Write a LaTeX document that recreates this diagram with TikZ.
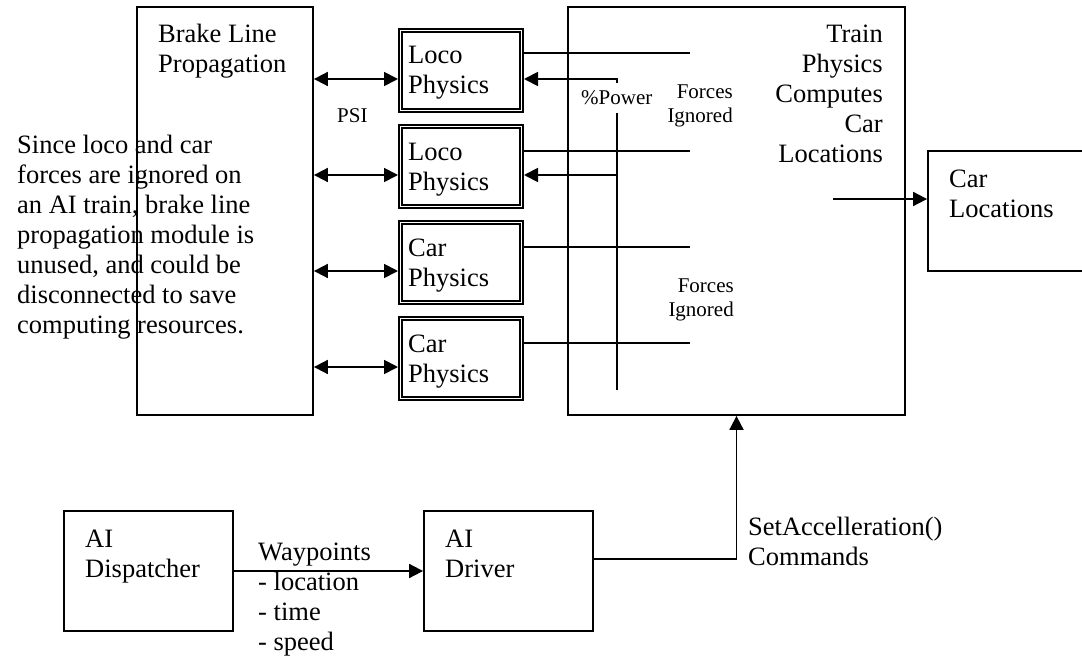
\documentclass[tikz,border=0pt]{standalone}
\usepackage{fontspec}
\setmainfont{Liberation Serif}
\usetikzlibrary{arrows.meta,positioning}
\tikzset{
  box/.style={draw,line width=1.8pt,inner sep=0pt},
  dbox/.style={draw,double,line width=1.6pt,double distance=1.8pt,inner sep=0pt,outer sep=2.5pt,minimum width=121pt,minimum height=80pt},
  lbl/.style={font=\fontsize{26.5}{30}\selectfont,align=left,inner sep=0pt,anchor=base west},
  sml/.style={font=\fontsize{21}{24}\selectfont,inner sep=0pt},
  ln/.style={line width=1.8pt},
  arr/.style={line width=1.8pt,-{Triangle[length=14pt,width=14pt]}},
  darr/.style={line width=1.8pt,{Triangle[length=14pt,width=14pt]}-{Triangle[length=14pt,width=14pt]}},
}
\begin{document}
\begin{tikzpicture}[x=1pt,y=-1pt]
\useasboundingbox (0,0) rectangle (1082,658);
\clip (0,0) rectangle (1082,658);

% base = baseline of the last line
\node[lbl] (note) at (17,333) {Since loco and car\\forces are ignored on\\an AI train, brake line\\propagation module is\\unused, and could be\\disconnected to save\\computing resources.};

\node[box,minimum width=176pt,minimum height=408pt] (brake) at (225,211) {};
\node[box,minimum width=337pt,minimum height=408pt] (train) at (736.5,211) {};
\node[box,minimum width=192pt,minimum height=120pt] (carloc) at (1024,211) {};
\node[box,minimum width=169pt,minimum height=120pt] (disp) at (148.5,571) {};
\node[box,minimum width=169pt,minimum height=120pt] (driver) at (508.5,571) {};

\node[lbl] (braketxt) at (158,73) {Brake Line\\Propagation};
\node[lbl,align=right,anchor=base east] (traintxt) at (883,163) {Train\\Physics\\Computes\\Car\\Locations};
\node[lbl] (carloctxt) at (949,218) {Car\\Locations};
\node[lbl] (disptxt) at (85,577) {AI\\Dispatcher};
\node[lbl] (drivertxt) at (445,577) {AI\\Driver};

% physics modules
\foreach \n/\y/\t/\s in {loco1/70.5/Loco/17.5,loco2/166.5/Loco/15.5,car1/262.5/Car/15.5,car2/358.5/Car/15.5}{
  \node[dbox] (\n) at (461,\y) {};
  \node[lbl] (\n txt) at ([xshift=-53pt,yshift=-23.5pt]\n.center) {\t\\Physics};
  \coordinate (\n w) at ([yshift=-8.5pt]\n.west);
  \draw[darr] (brake.east |- \n w) -- (\n w);
  \draw[ln] ([yshift=\s pt]\n.east) -- +(166,0);
}
\node[sml,anchor=base west] (psi) at (337,123) {PSI};

% power feed
\coordinate (pw) at (617,79);
\coordinate (pw2) at (617,175);
\coordinate (pwend) at (617,390);
\draw[arr] (pwend) -- (pw) -- (loco1.east |- pw);
\draw[arr] (pw2) -- (loco2.east |- pw2);
\node[sml,fill=white,inner ysep=8pt,anchor=base west] (power) at (581,105) {\%Power};

\node[sml,align=right,anchor=base east] (forces1) at (733,123) {Forces\\Ignored};
\node[sml,align=right,anchor=base east] (forces2) at (734,316) {Forces\\Ignored};

\coordinate (clsrc) at (833,199);
\draw[arr] (clsrc) -- (carloc.west |- clsrc);

\draw[arr] (disp) -- (driver);
\node[lbl] (wp) at (258,650) {Waypoints\\- location\\- time\\- speed};
\draw[arr] ([yshift=12pt]driver.east) -| (train.south);
\node[lbl] (setacc) at (748,565) {SetAccelleration()\\Commands};

\end{tikzpicture}
\end{document}
